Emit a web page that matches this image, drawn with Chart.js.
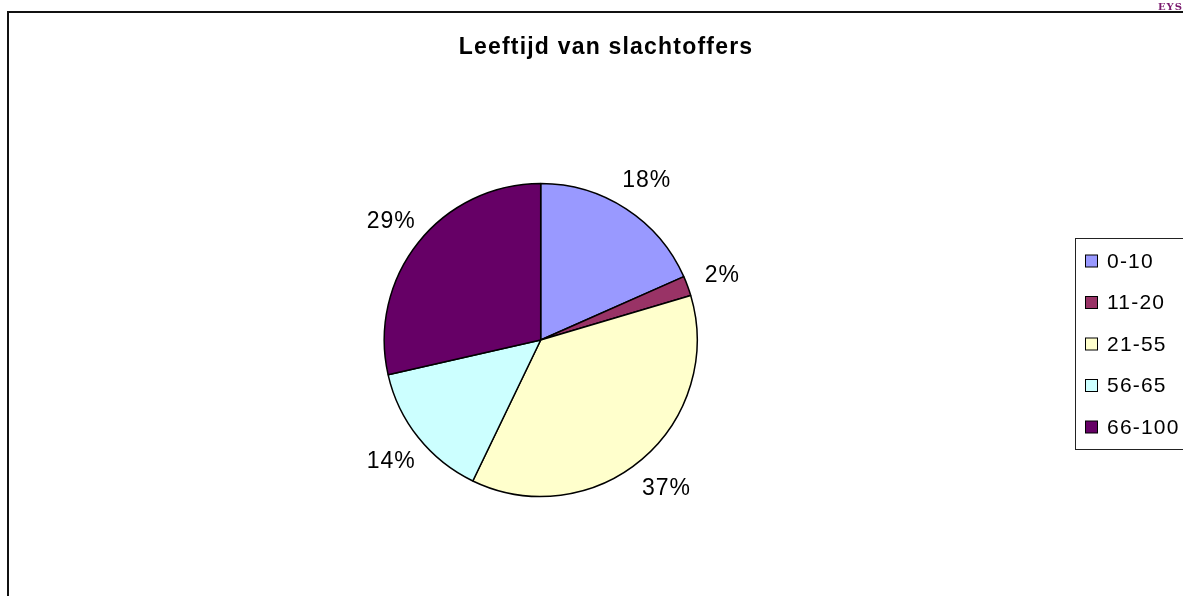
<!DOCTYPE html>
<html>
<head>
<meta charset="utf-8">
<title>Leeftijd van slachtoffers</title>
<script src="https://cdn.jsdelivr.net/npm/chart.js@4/dist/chart.umd.min.js"></script>
<style>
    html, body { margin: 0; padding: 0; background: #fff; }
    #wrap { position: relative; width: 1183px; height: 596px; overflow: hidden; }
    #frame {
        position: absolute; left: 7px; top: 11px; width: 1200px; height: 620px;
        border-top: 2px solid #111; border-left: 2px solid #111;
    }
    #corner {
        position: absolute; left: 1158px; top: 1px;
        font: bold 10px 'DejaVu Serif', serif; letter-spacing: 1px; color: #7a1a6e;
    }
    canvas { position: absolute; left: 0; top: 0; }
</style>
</head>
<body>
<div id="wrap">
    <canvas id="chart" width="1183" height="596"></canvas>
    <div id="frame"></div>
    <div id="corner">EYS</div>
</div>
<script>
'use strict';

const CHART_TITLE = 'Leeftijd van slachtoffers';
const ageGroups = ['0-10', '11-20', '21-55', '56-65', '66-100'];
const victimCounts = [9, 1, 18, 7, 14];
const sliceColors = ['#9999FF', '#993366', '#FFFFCC', '#CCFFFF', '#660066'];

const FONT = "'Liberation Sans', Arial, sans-serif";

// title, percentage labels and the boxed legend, drawn like the excel export
const excelDecor = {
    id: 'excelDecor',
    afterDraw(chart) {
        const ctx = chart.ctx;
        const meta = chart.getDatasetMeta(0);
        const total = victimCounts.reduce((sum, x) => sum + x, 0);

        ctx.save();
        ctx.fillStyle = '#000';
        ctx.textBaseline = 'middle';

        // title
        ctx.font = 'bold 23px ' + FONT;
        ctx.letterSpacing = '1.2px';
        ctx.textAlign = 'center';
        ctx.fillText(CHART_TITLE, 606, 48);

        // percentages outside the slices
        ctx.font = '23px ' + FONT;
        ctx.letterSpacing = '1px';
        meta.data.forEach((arc, i) => {
            const p = arc.getProps(['x', 'y', 'startAngle', 'endAngle', 'outerRadius'], true);
            const mid = (p.startAngle + p.endAngle) / 2;
            const dist = p.outerRadius + 36;
            const pct = Math.round(victimCounts[i] / total * 100) + '%';
            ctx.fillText(pct, p.x + Math.cos(mid) * dist + 1, p.y + Math.sin(mid) * dist + 2);
        });

        // legend box
        ctx.strokeStyle = '#222';
        ctx.lineWidth = 1;
        ctx.strokeRect(1075.5, 238.5, 200, 211);
        ctx.textAlign = 'left';
        ctx.font = '21px ' + FONT;
        ctx.letterSpacing = '1.2px';
        for (let i = 0; i < ageGroups.length; i++) {
            const y = 261 + i * 41.5;
            ctx.fillStyle = sliceColors[i];
            ctx.fillRect(1085.5, y - 6, 12, 12);
            ctx.strokeStyle = '#000';
            ctx.strokeRect(1085.5, y - 6, 12, 12);
            ctx.fillStyle = '#000';
            ctx.fillText(ageGroups[i], 1107, y + 1);
        }
        ctx.restore();
    }
};

new Chart(document.getElementById('chart'), {
    type: 'pie',
    data: {
        labels: ageGroups,
        datasets: [{
            data: victimCounts,
            backgroundColor: sliceColors,
            borderColor: '#000',
            borderWidth: 1.5,
            radius: 156.5
        }]
    },
    options: {
        responsive: false,
        animation: false,
        layout: {
            padding: { left: 380, right: 481.6, top: 180, bottom: 96 }
        },
        plugins: {
            legend: { display: false },
            title: { display: false },
            tooltip: { enabled: false }
        }
    },
    plugins: [excelDecor]
});
</script>
</body>
</html>
